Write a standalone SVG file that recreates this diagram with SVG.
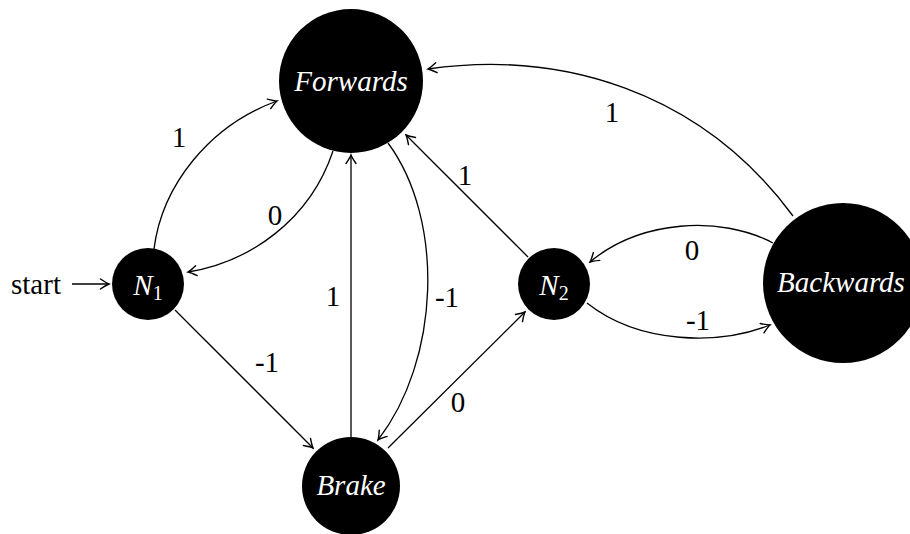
<svg xmlns="http://www.w3.org/2000/svg" width="910" height="534" viewBox="0 0 910 534">
  <style>
    .state circle { fill: #000; }
    .state text { fill: #fff; font-family: "Liberation Serif", "Times New Roman", serif; font-style: italic; font-size: 29px; text-anchor: middle; }
    .state .sub { font-style: normal; font-size: 20px; }
    .edge { fill: none; stroke: #000; stroke-width: 1.3; marker-end: url(#to); }
    .lbl { font-family: "Liberation Serif", "Times New Roman", serif; font-size: 29px; text-anchor: middle; fill: #000; }
  </style>
  <defs>
    <!-- curved open "to" arrow tip -->
    <marker id="to" viewBox="-10 -7 12 14" markerWidth="12" markerHeight="14" refX="0" refY="0" orient="auto" markerUnits="userSpaceOnUse">
      <path d="M -8.5 -5 Q -2.5 -0.9 0 0 Q -2.5 0.9 -8.5 5" fill="none" stroke="#000" stroke-width="1.4" stroke-linecap="round"/>
    </marker>
  </defs>

  <rect width="910" height="534" fill="#fff"/>

  <!-- transitions -->
  <g id="connectors">
    <path class="edge" d="M 72 284 L 109 284"/>
    <path class="edge" d="M 154 249 C 162 185, 210 125, 277 101"/>
    <path class="edge" d="M 333 151 C 310 220, 250 262, 188 272"/>
    <path class="edge" d="M 175 310 L 313 448"/>
    <path class="edge" d="M 351 437 L 351 155"/>
    <path class="edge" d="M 388 143 C 445 220, 440 360, 378 440"/>
    <path class="edge" d="M 388 448 L 525 312"/>
    <path class="edge" d="M 528 257 L 406 135"/>
    <path class="edge" d="M 773 243 C 720 215, 640 220, 590 262"/>
    <path class="edge" d="M 587 303 C 640 345, 720 345, 770 325"/>
    <path class="edge" d="M 793 216 C 700 90, 560 50, 428 69"/>

    <text class="lbl" x="36" y="294">start</text>
    <text class="lbl" x="179" y="147">1</text>
    <text class="lbl" x="275" y="225">0</text>
    <text class="lbl" x="267" y="372">-1</text>
    <text class="lbl" x="333" y="306">1</text>
    <text class="lbl" x="447" y="307">-1</text>
    <text class="lbl" x="458" y="412">0</text>
    <text class="lbl" x="465" y="185">1</text>
    <text class="lbl" x="692" y="260">0</text>
    <text class="lbl" x="698" y="330">-1</text>
    <text class="lbl" x="612" y="122">1</text>
  </g>

  <!-- states -->
  <g id="forwards" class="state">
    <circle cx="351" cy="81" r="72"/>
    <text x="351" y="91">Forwards</text>
  </g>
  <g id="n1" class="state">
    <circle cx="148" cy="284" r="36"/>
    <text x="148" y="295">N<tspan class="sub" dy="5">1</tspan></text>
  </g>
  <g id="n2" class="state">
    <circle cx="554" cy="284" r="36"/>
    <text x="554" y="295">N<tspan class="sub" dy="5">2</tspan></text>
  </g>
  <g id="backwards" class="state">
    <circle cx="843" cy="283" r="80"/>
    <text x="841" y="292">Backwards</text>
  </g>
  <g id="brake" class="state">
    <circle cx="351" cy="486" r="49"/>
    <text x="351" y="495">Brake</text>
  </g>
</svg>
